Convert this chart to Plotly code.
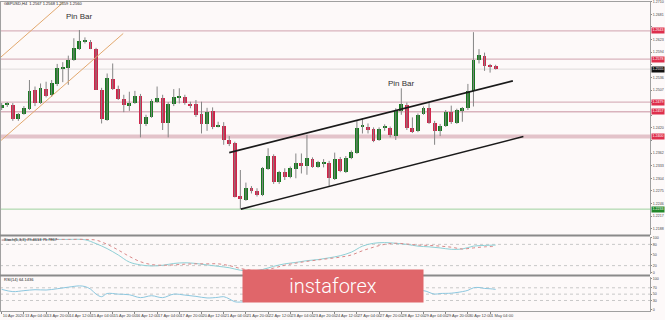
import plotly.graph_objects as go

# ---------------- data (GBPUSD H4) ----------------
opens = [1.2466, 1.2473, 1.2472, 1.2440, 1.2452, 1.2463, 1.2507, 1.2478, 1.2509, 1.2495,
         1.2520, 1.2556, 1.2557, 1.2576, 1.2601, 1.2619, 1.2618, 1.2601, 1.2507, 1.2438,
         1.2532, 1.2509, 1.2487, 1.2470, 1.2478, 1.2493, 1.2429, 1.2446, 1.2480, 1.2488,
         1.2430, 1.2475, 1.2489, 1.2490, 1.2475, 1.2474, 1.2452, 1.2429, 1.2459, 1.2422,
         1.2424, 1.2392, 1.2384, 1.2263, 1.2254, 1.2281, 1.2275, 1.2266, 1.2325, 1.2356,
         1.2295, 1.2319, 1.2308, 1.2325, 1.2338, 1.2332, 1.2348, 1.2331, 1.2338, 1.2338,
         1.2302, 1.2349, 1.2319, 1.2350, 1.2363, 1.2422, 1.2423, 1.2417, 1.2392, 1.2420,
         1.2420, 1.2401, 1.2459, 1.2473, 1.2419, 1.2413, 1.2452, 1.2466, 1.2432, 1.2413,
         1.2425, 1.2457, 1.2432, 1.2459, 1.2465, 1.2505, 1.2576, 1.2585, 1.2563, 1.2562]
highs = [1.2477, 1.2479, 1.2477, 1.2454, 1.2470, 1.2530, 1.2515, 1.2522, 1.2526, 1.2530,
         1.2567, 1.2571, 1.2586, 1.2626, 1.2645, 1.2628, 1.2622, 1.2604, 1.2512, 1.2545,
         1.2568, 1.2517, 1.2496, 1.2503, 1.2505, 1.2498, 1.2450, 1.2486, 1.2515, 1.2496,
         1.2479, 1.2509, 1.2511, 1.2496, 1.2480, 1.2484, 1.2480, 1.2466, 1.2467, 1.2434,
         1.2433, 1.2401, 1.2388, 1.2323, 1.2294, 1.2286, 1.2281, 1.2330, 1.2373, 1.2359,
         1.2321, 1.2327, 1.2331, 1.2361, 1.2361, 1.2404, 1.2352, 1.2344, 1.2348, 1.2344,
         1.2363, 1.2353, 1.2355, 1.2368, 1.2436, 1.2442, 1.2430, 1.2421, 1.2421, 1.2428,
         1.2423, 1.2465, 1.2511, 1.2478, 1.2444, 1.2453, 1.2469, 1.2478, 1.2436, 1.2429,
         1.2461, 1.2471, 1.2464, 1.2468, 1.2521, 1.2640, 1.2601, 1.2593, 1.2567, 1.2565]
lows = [1.2461, 1.2468, 1.2436, 1.2436, 1.2450, 1.2461, 1.2470, 1.2475, 1.2490, 1.2491,
        1.2516, 1.2525, 1.2519, 1.2574, 1.2599, 1.2614, 1.2601, 1.2507, 1.2430, 1.2436,
        1.2507, 1.2484, 1.2456, 1.2459, 1.2475, 1.2398, 1.2424, 1.2443, 1.2477, 1.2415,
        1.2398, 1.2470, 1.2476, 1.2473, 1.2465, 1.2445, 1.2407, 1.2413, 1.2417, 1.2421,
        1.2381, 1.2378, 1.2260, 1.2233, 1.2252, 1.2269, 1.2262, 1.2263, 1.2323, 1.2291,
        1.2291, 1.2300, 1.2304, 1.2304, 1.2315, 1.2312, 1.2328, 1.2328, 1.2329, 1.2286,
        1.2300, 1.2318, 1.2316, 1.2348, 1.2360, 1.2407, 1.2407, 1.2387, 1.2390, 1.2413,
        1.2398, 1.2392, 1.2450, 1.2415, 1.2408, 1.2410, 1.2450, 1.2429, 1.2381, 1.2401,
        1.2422, 1.2429, 1.2429, 1.2434, 1.2461, 1.2469, 1.2568, 1.2551, 1.2547, 1.2554]
closes = [1.2473, 1.2474, 1.2440, 1.2451, 1.2465, 1.2505, 1.2476, 1.2511, 1.2493, 1.2522,
          1.2558, 1.2558, 1.2576, 1.2603, 1.2620, 1.2620, 1.2602, 1.2508, 1.2440, 1.2534,
          1.2509, 1.2486, 1.2472, 1.2476, 1.2493, 1.2428, 1.2446, 1.2482, 1.2488, 1.2432,
          1.2475, 1.2490, 1.2491, 1.2476, 1.2472, 1.2450, 1.2429, 1.2457, 1.2421, 1.2423,
          1.2392, 1.2383, 1.2262, 1.2256, 1.2282, 1.2275, 1.2266, 1.2327, 1.2356, 1.2296,
          1.2318, 1.2306, 1.2327, 1.2340, 1.2334, 1.2350, 1.2329, 1.2341, 1.2339, 1.2304,
          1.2348, 1.2321, 1.2351, 1.2364, 1.2420, 1.2423, 1.2415, 1.2390, 1.2417, 1.2421,
          1.2404, 1.2461, 1.2475, 1.2419, 1.2411, 1.2450, 1.2465, 1.2432, 1.2413, 1.2424,
          1.2457, 1.2433, 1.2461, 1.2465, 1.2505, 1.2576, 1.2588, 1.2562, 1.2562, 1.2555]

time_tick_idx = [0, 4, 8, 12, 16, 20, 24, 28, 32, 36, 40, 44, 48, 52, 56, 60, 64, 68, 72, 76, 80, 84, 88]
time_tick_labels = ["10 Apr 2020", "13 Apr 04:00", "13 Apr 20:00", "14 Apr 12:00", "15 Apr 04:00",
                    "15 Apr 20:00", "16 Apr 12:00", "17 Apr 04:00", "17 Apr 20:00", "20 Apr 12:00",
                    "21 Apr 04:00", "21 Apr 20:00", "22 Apr 12:00", "23 Apr 04:00", "23 Apr 20:00",
                    "24 Apr 12:00", "27 Apr 04:00", "27 Apr 20:00", "28 Apr 12:00", "29 Apr 04:00",
                    "29 Apr 20:00", "30 Apr 12:00", "1 May 04:00"]

price_ticks = [1.2710, 1.2681, 1.2652, 1.2623, 1.2594, 1.2565, 1.2536, 1.2507, 1.2478, 1.2449,
               1.2420, 1.2391, 1.2362, 1.2333, 1.2304, 1.2275, 1.2246, 1.2217, 1.2188]

# horizontal levels
res_levels = [1.2643, 1.2578, 1.2479, 1.2457]
zone_level = 1.2400
support_level = 1.2233
last_price = 1.2555

# trend channels (bar index, price)
orange_upper_x = [-0.3, 11.4]
orange_upper_y = [1.2581, 1.2712]
orange_lower_x = [-0.3, 21.9]
orange_lower_y = [1.2389, 1.2637]
black_upper_x = [41.0, 92.1]
black_upper_y = [1.2363, 1.2528]
black_lower_x = [43.1, 94.0]
black_lower_y = [1.2233, 1.2400]

pin_bar_idx = [14, 72]
pin_bar_price = [1.2677, 1.2521]

# Stochastic
stoch_idx = [0, 3, 6, 9, 12, 15, 17, 19, 21, 23, 25, 27, 29, 31, 33, 35, 37, 39, 41, 43, 45, 47,
             49, 51, 53, 55, 57, 59, 61, 63, 65, 67, 69, 71, 73, 75, 77, 79, 81, 83, 85, 87, 89]
stoch_main = [92, 93, 93, 94, 94, 93, 82, 68, 50, 30, 22, 19, 21, 26, 28, 26, 22, 18, 14, 7, 5, 9,
              18, 25, 29, 34, 37, 42, 48, 58, 75, 83, 85, 83, 80, 75, 73, 70, 66, 67, 75, 77, 78]
stoch_signal = [92, 93, 93, 94, 94, 94, 92, 80, 64, 46, 31, 23, 21, 22, 24, 25, 25, 25, 20, 12, 7, 6,
                13, 21, 27, 32, 36, 40, 44, 50, 62, 72, 80, 83, 81, 78, 77, 75, 72, 67, 70, 73, 74]
stoch_ticks = [100, 80, 50, 20, 0]

# RSI
rsi_idx = [0, 2, 4, 6, 8, 10, 12, 14, 15, 16, 17, 18, 19, 21, 23, 25, 27, 29, 31, 33, 35, 37, 39,
           40, 41, 42, 43, 45, 47, 49, 51, 53, 55, 57, 59, 61, 63, 65, 67, 69, 71, 73, 75, 76, 78,
           79, 81, 83, 84, 85, 86, 87, 88, 89]
rsi_vals = [65, 58, 61, 64, 63, 67, 72, 76, 74, 66, 50, 42, 52, 50, 48, 39, 45, 39, 50, 47, 43, 38, 40,
            42, 35, 26, 25, 30, 38, 35, 38, 42, 45, 44, 42, 45, 48, 58, 55, 57, 62, 58, 57, 61, 50,
            52, 53, 58, 62, 70, 71, 68, 67, 65]
rsi_ticks = [100, 70, 50, 30, 0]

# ---------------- geometry ----------------
W, H = 665, 320
ML, MR, MT, MB = 0, 15, 1, 9
PH = H - MT - MB  # plot height in px
PW = W - ML - MR


def py(px):
    """pixel row -> paper fraction"""
    return (H - MB - px) / PH


BG = "#fdf9f9"
GREEN = "#17791f"
RED = "#d1244a"
WICK = "#858585"
FONT = "Liberation Sans, Arial, sans-serif"
TAGFS = 3.6

fig = go.Figure()

# wicks
wx, wy = [], []
for i in range(len(opens)):
    wx += [i, i, None]
    wy += [lows[i], highs[i], None]
fig.add_trace(go.Scatter(x=wx, y=wy, mode="lines", line=dict(color=WICK, width=1),
                         hoverinfo="skip", showlegend=False, xaxis="x", yaxis="y"))

# channel lines
fig.add_trace(go.Scatter(x=orange_upper_x, y=orange_upper_y, mode="lines",
                         line=dict(color="#e2a86e", width=1), showlegend=False))
fig.add_trace(go.Scatter(x=orange_lower_x, y=orange_lower_y, mode="lines",
                         line=dict(color="#e2a86e", width=1), showlegend=False))
fig.add_trace(go.Scatter(x=black_upper_x, y=black_upper_y, mode="lines",
                         line=dict(color="#1a1a1a", width=1.6), showlegend=False))
fig.add_trace(go.Scatter(x=black_lower_x, y=black_lower_y, mode="lines",
                         line=dict(color="#1a1a1a", width=1.6), showlegend=False))

# candle bodies
bases = [min(o, c) for o, c in zip(opens, closes)]
heights = [max(abs(c - o), 0.00025) for o, c in zip(opens, closes)]
colors = [GREEN if c >= o else RED for o, c in zip(opens, closes)]
fig.add_trace(go.Bar(x=list(range(len(opens))), y=heights, base=bases, width=0.7,
                     marker=dict(color=colors, line=dict(width=0)), showlegend=False,
                     xaxis="x", yaxis="y"))

# stochastic
fig.add_trace(go.Scatter(x=stoch_idx, y=stoch_main, mode="lines",
                         line=dict(color="#8fd0d6", width=1, shape="spline"),
                         showlegend=False, xaxis="x", yaxis="y2"))
fig.add_trace(go.Scatter(x=stoch_idx, y=stoch_signal, mode="lines",
                         line=dict(color="#d98a8a", width=1, dash="dot", shape="spline"),
                         showlegend=False, xaxis="x", yaxis="y2"))
# RSI
fig.add_trace(go.Scatter(x=rsi_idx, y=rsi_vals, mode="lines",
                         line=dict(color="#8cc7df", width=1, shape="spline"),
                         showlegend=False, xaxis="x", yaxis="y3"))

shapes = []
for lv in res_levels:
    shapes.append(dict(type="line", xref="paper", x0=0, x1=1, yref="y", y0=lv, y1=lv,
                       line=dict(color="#d9b3bd", width=1.4), layer="below"))
shapes.append(dict(type="line", xref="paper", x0=0, x1=1, yref="y", y0=zone_level, y1=zone_level,
                   line=dict(color="#e3c3ca", width=4), layer="below"))
shapes.append(dict(type="line", xref="paper", x0=0, x1=1, yref="y", y0=support_level, y1=support_level,
                   line=dict(color="#9fd19f", width=1), layer="below"))
shapes.append(dict(type="line", xref="paper", x0=0, x1=1, yref="y", y0=last_price, y1=last_price,
                   line=dict(color="#dedada", width=1), layer="below"))
for v in [80, 20]:
    shapes.append(dict(type="line", xref="paper", x0=0, x1=1, yref="y2", y0=v, y1=v,
                       line=dict(color="#c8c8c8", width=1, dash="dot"), layer="below"))
for v in [70, 50, 30]:
    shapes.append(dict(type="line", xref="paper", x0=0, x1=1, yref="y3", y0=v, y1=v,
                       line=dict(color="#c8c8c8", width=1, dash="dot"), layer="below"))
shapes.append(dict(type="line", xref="paper", x0=0, x1=1, yref="paper", y0=py(1.5), y1=py(1.5),
                   line=dict(color="#a0a0a0", width=1)))
shapes.append(dict(type="line", xref="paper", x0=0.0008, x1=0.0008, yref="paper", y0=0, y1=1,
                   line=dict(color="#a0a0a0", width=1)))
for sep in [235.5, 275.5]:
    shapes.append(dict(type="line", xref="paper", x0=0, x1=1, yref="paper", y0=py(sep), y1=py(sep),
                       line=dict(color="#8a8a8a", width=2)))

annotations = []
for xi, pr in zip(pin_bar_idx, pin_bar_price):
    annotations.append(dict(x=xi, y=pr, xref="x", yref="y", text="Pin Bar", showarrow=False,
                            font=dict(family=FONT, size=8, color="#333333")))
annotations.append(dict(x=0.003, y=py(3.5), xref="paper", yref="paper", xanchor="left", yanchor="middle",
                        text="GBPUSD,H4  1.2567 1.2568 1.2559 1.2560", showarrow=False,
                        font=dict(family=FONT, size=4, color="#222222")))
annotations.append(dict(x=0.003, y=py(239), xref="paper", yref="paper", xanchor="left", yanchor="middle",
                        text="Stoch(5,3,3) 79.4613 75.7867", showarrow=False,
                        font=dict(family=FONT, size=4, color="#222222")))
annotations.append(dict(x=0.003, y=py(279.5), xref="paper", yref="paper", xanchor="left", yanchor="middle",
                        text="RSI(14) 64.1436", showarrow=False,
                        font=dict(family=FONT, size=4, color="#222222")))
tag_list = [(lv, "#de2f4c") for lv in res_levels] + [(zone_level, "#de2f4c"), (support_level, "#22882a"),
                                                       (last_price, "#111111")]
for lv, col in tag_list:
    annotations.append(dict(x=1, y=lv, xref="paper", yref="y", xanchor="left", yanchor="middle", xshift=0.5,
                            text=f"{lv:.4f}", showarrow=False, bgcolor=col, borderpad=0.4,
                            font=dict(family=FONT, size=TAGFS, color="white")))
annotations.append(dict(x=333 / PW, y=py(303), xref="paper", yref="paper",
                        text="instaforex", showarrow=False, width=178, height=30, bgcolor="#e0666a",
                        font=dict(family="Roboto, Open Sans, sans-serif", size=20, color="white", weight=300)))

# hide price tick labels that sit under a tag (as in the reference)
tag_prices = [t[0] for t in tag_list]
price_text = ["" if any(abs(v - tp) < 0.0011 for tp in tag_prices) else f"{v:.4f}" for v in price_ticks]

axis_font = dict(family=FONT, size=3.6, color="#444444")
xfont = dict(family=FONT, size=4, color="#444444")
fig.update_layout(
    width=W, height=H,
    margin=dict(l=ML, r=MR, t=MT, b=MB, pad=0),
    paper_bgcolor=BG, plot_bgcolor=BG,
    showlegend=False, bargap=0,
    xaxis=dict(range=[-0.306, -0.306 + PW / 5.55], anchor="y3", showgrid=False, zeroline=False,
               tickmode="array", tickvals=time_tick_idx, ticktext=time_tick_labels, tickangle=0,
               ticks="outside", ticklen=2, tickcolor="#888", tickfont=xfont,
               ticklabelposition="outside right", showline=True, linecolor="#a0a0a0", linewidth=1,
               automargin=False),
    yaxis=dict(domain=[py(235), 1], range=[1.21735, 1.27117], side="right", anchor="x",
               showgrid=False, zeroline=False, tickmode="array", tickvals=price_ticks,
               ticktext=price_text, ticks="outside", ticklen=1, tickcolor="#888",
               tickfont=axis_font, showline=True, linecolor="#a0a0a0", linewidth=1, automargin=False),
    yaxis2=dict(domain=[py(274), py(237)], range=[-3.7, 100.8], side="right", anchor="x",
                showgrid=False, zeroline=False, tickmode="array", tickvals=stoch_ticks,
                ticks="outside", ticklen=1, tickcolor="#888", tickfont=axis_font,
                showline=True, linecolor="#a0a0a0", linewidth=1, automargin=False),
    yaxis3=dict(domain=[0, py(277)], range=[-3.2, 104.1], side="right", anchor="x",
                showgrid=False, zeroline=False, tickmode="array", tickvals=rsi_ticks,
                ticks="outside", ticklen=1, tickcolor="#888", tickfont=axis_font,
                showline=True, linecolor="#a0a0a0", linewidth=1, automargin=False),
    shapes=shapes, annotations=annotations,
)

fig.write_html("out.html")
